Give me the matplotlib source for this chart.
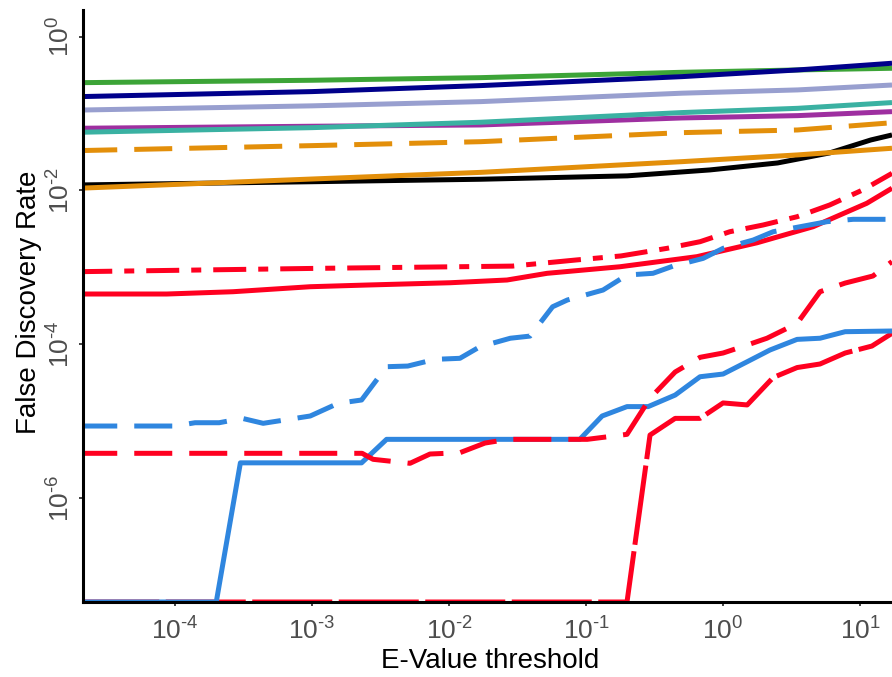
import numpy as np
import matplotlib
matplotlib.use("Agg")
import matplotlib.pyplot as plt

plt.rcParams['font.family'] = ['Liberation Sans', 'DejaVu Sans']
plt.rcParams['mathtext.fontset'] = 'custom'
plt.rcParams['mathtext.rm'] = 'Liberation Sans'
plt.rcParams['mathtext.it'] = 'Liberation Sans:italic'
plt.rcParams['mathtext.bf'] = 'Liberation Sans:bold'

# --- data (E-value threshold vs false discovery rate) ---
x_smooth = [2e-5, 1e-3, 0.017, 0.5, 3.5, 17.1]
fdr_green = [0.252, 0.271, 0.293, 0.344, 0.369, 0.388]
fdr_navy = [0.166, 0.193, 0.231, 0.302, 0.369, 0.451]
fdr_lavender = [0.111, 0.126, 0.143, 0.184, 0.203, 0.235]
fdr_teal = [0.0571, 0.0656, 0.0771, 0.103, 0.117, 0.139]
fdr_purple = [0.0644, 0.0684, 0.0711, 0.0877, 0.094, 0.106]
fdr_orange_dash = [0.033, 0.0383, 0.0431, 0.0565, 0.0612, 0.076]
fdr_orange = [0.0107, 0.0141, 0.0172, 0.0237, 0.029, 0.0354]

x_black = [2e-5, 1e-3, 0.017, 0.2, 0.8, 2.5, 6.0, 12.0, 17.1]
fdr_black = [0.0118, 0.013, 0.014, 0.0155, 0.0185, 0.0228, 0.0308, 0.0454, 0.0527]

x_red_dashdot = [2e-5, 1e-3, 0.029, 0.085, 0.18, 0.39, 0.68, 1.12, 1.96, 3.47, 6.0, 10.5, 17.1]
fdr_red_dashdot = [8.8e-4, 9.7e-4, 1.04e-3, 1.25e-3, 1.41e-3, 1.77e-3, 2.16e-3,
                   2.91e-3, 3.56e-3, 4.56e-3, 6.48e-3, 1.02e-2, 1.67e-2]

x_red_solid = [2e-5, 8.7e-5, 2.65e-4, 9.7e-4, 2.5e-3, 0.0102, 0.0265, 0.052,
               0.177, 0.645, 1.77, 4.54, 11.2, 17.1]
fdr_red_solid = [4.51e-4, 4.51e-4, 4.83e-4, 5.61e-4, 5.9e-4, 6.32e-4, 6.86e-4,
                 8.38e-4, 1.02e-3, 1.38e-3, 2.09e-3, 3.38e-3, 6.82e-3, 1.07e-2]

x_blue_dash = [2e-5, 1e-4, 1.4e-4, 2.1e-4, 3.1e-4, 4.4e-4, 9.7e-4, 1.55e-3, 2.3e-3,
               3.5e-3, 5.0e-3, 7.9e-3, 0.012, 0.0168, 0.028, 0.039, 0.057, 0.073,
               0.133, 0.199, 0.308, 0.432, 0.715, 1.0, 1.66, 2.32, 3.65, 5.74, 8.9, 17.1]
fdr_blue_dash = [8.67e-6, 8.67e-6, 9.57e-6, 9.57e-6, 1.09e-5, 9.4e-6, 1.17e-5, 1.71e-5,
                 1.89e-5, 5.12e-5, 5.22e-5, 6.38e-5, 6.58e-5, 9.31e-5, 1.2e-4, 1.28e-4,
                 3.08e-4, 3.77e-4, 5.08e-4, 7.96e-4, 8.38e-4, 1.04e-3, 1.31e-3, 1.77e-3,
                 2.27e-3, 2.91e-3, 3.38e-3, 3.93e-3, 4.22e-3, 4.22e-3]

x_blue_solid = [2e-5, 2.0e-4, 3.0e-4, 2.3e-3, 3.5e-3, 0.09, 0.131, 0.199, 0.284,
                0.447, 0.679, 1.0, 1.5, 2.2, 3.47, 5.1, 7.78, 17.1]
fdr_blue_solid = [0.0, 0.0, 2.88e-6, 2.88e-6, 5.82e-6, 5.82e-6, 1.17e-5, 1.55e-5,
                  1.55e-5, 2.19e-5, 3.79e-5, 4.11e-5, 5.94e-5, 8.44e-5, 1.16e-4,
                  1.2e-4, 1.46e-4, 1.49e-4]

x_red_dash = [2e-5, 2.32e-3, 2.79e-3, 5.19e-3, 7.26e-3, 0.012, 0.0183, 0.027, 0.102,
              0.199, 0.293, 0.447, 0.679, 1.0, 1.5, 2.09, 3.47, 5.1, 7.78, 12.4, 17.1]
fdr_red_dash = [3.83e-6, 3.83e-6, 3.2e-6, 2.84e-6, 3.75e-6, 3.9e-6, 5.21e-6, 5.82e-6,
                5.82e-6, 6.76e-6, 1.99e-5, 4.37e-5, 6.78e-5, 7.71e-5, 9.8e-5, 1.2e-4,
                1.87e-4, 4.83e-4, 6.26e-4, 7.73e-4, 1.19e-3]

x_red_longdash = [2e-5, 0.199, 0.293, 0.447, 0.679, 1.0, 1.5, 2.32, 3.47, 5.1, 7.78, 12.2, 17.1]
fdr_red_longdash = [0.0, 0.0, 6.62e-6, 1.09e-5, 1.09e-5, 1.73e-5, 1.63e-5, 3.7e-5,
                    4.99e-5, 5.55e-5, 7.71e-5, 9.5e-5, 1.39e-4]

x_ticks = [1e-4, 1e-3, 1e-2, 1e-1, 1e0, 1e1]
x_tick_labels = [r'$\mathregular{10^{\text{-}4}}$', r'$\mathregular{10^{\text{-}3}}$',
                 r'$\mathregular{10^{\text{-}2}}$', r'$\mathregular{10^{\text{-}1}}$',
                 r'$\mathregular{10^{0}}$', r'$\mathregular{10^{1}}$']
y_ticks = [1e-6, 1e-4, 1e-2, 1e0]
y_tick_labels = [r'$\mathregular{10^{\text{-}6}}$', r'$\mathregular{10^{\text{-}4}}$',
                 r'$\mathregular{10^{\text{-}2}}$', r'$\mathregular{10^{0}}$']

XMIN, XMAX = 2.13e-5, 17.1
YMIN, YMAX = 4.47e-8, 2.22

GREEN = '#3CA437'
NAVY = '#00008B'
LAVENDER = '#989FCF'
TEAL = '#3AB1A2'
PURPLE = '#9E2FA0'
ORANGE = '#E38F0A'
RED = '#FF0020'
BLUE = '#2F86DF'

SOLID = '-'
DASHED = (0, (7.6, 3.4))
DASHDOT = (0, (6.6, 2.4, 2.0, 2.4))
LONGDASH = (0, (16.0, 1.3))

series = [
    (x_black, fdr_black, 'black', SOLID),
    (x_smooth, fdr_orange, ORANGE, SOLID),
    (x_smooth, fdr_orange_dash, ORANGE, DASHED),
    (x_smooth, fdr_purple, PURPLE, SOLID),
    (x_smooth, fdr_teal, TEAL, SOLID),
    (x_smooth, fdr_lavender, LAVENDER, SOLID),
    (x_smooth, fdr_green, GREEN, SOLID),
    (x_smooth, fdr_navy, NAVY, SOLID),
    (x_red_solid, fdr_red_solid, RED, SOLID),
    (x_red_dashdot, fdr_red_dashdot, RED, DASHDOT),
    (x_blue_dash, fdr_blue_dash, BLUE, DASHED),
    (x_red_longdash, fdr_red_longdash, RED, LONGDASH),
    (x_blue_solid, fdr_blue_solid, BLUE, SOLID),
    (x_red_dash, fdr_red_dash, RED, DASHED),
]

fig = plt.figure(figsize=(8.92, 6.77), dpi=100)
ax = fig.add_axes([83 / 892, 75 / 677, 809 / 892, 592 / 677])

for xs, ys, col, ls in series:
    # zero FDR values sit on the bottom of the log axis
    ys_plot = np.maximum(np.array(ys), YMIN)
    ax.plot(xs, ys_plot, color=col, linestyle=ls, linewidth=3.6,
            solid_joinstyle='round', dash_joinstyle='round',
            solid_capstyle='butt', dash_capstyle='butt')

ax.set_xscale('log')
ax.set_yscale('log')
ax.set_xlim(XMIN, XMAX)
ax.set_ylim(YMIN, YMAX)
ax.set_xticks(x_ticks)
ax.set_xticklabels(x_tick_labels)
ax.set_yticks(y_ticks)
ax.set_yticklabels(y_tick_labels, rotation=90, va='center')
ax.xaxis.set_minor_locator(matplotlib.ticker.NullLocator())
ax.yaxis.set_minor_locator(matplotlib.ticker.NullLocator())

for side in ['top', 'right']:
    ax.spines[side].set_visible(False)
for side in ['left', 'bottom']:
    ax.spines[side].set_linewidth(2.2)
    ax.spines[side].set_color('black')

ax.tick_params(axis='both', direction='out', length=3, width=1.3, color='#333333',
               labelsize=19, labelcolor='#4D4D4D')
ax.tick_params(axis='x', pad=8)
ax.tick_params(axis='y', pad=3)

ax.set_xlabel('E-Value threshold', fontsize=20, color='black')
ax.set_ylabel('False Discovery Rate', fontsize=20, color='black')
ax.xaxis.set_label_coords(0.503, -0.077)
ax.yaxis.set_label_coords(-0.051, 0.507)

fig.savefig('out.png', dpi=100)
